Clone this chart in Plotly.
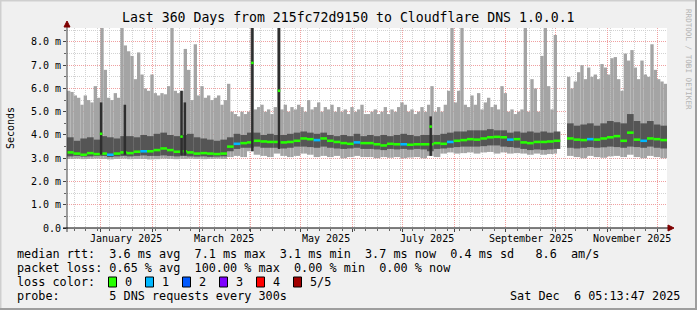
import pandas as pd
import plotly.graph_objects as go

# ---------------- data ----------------
START = pd.Timestamp("2024-12-11 19:00")
END = START + pd.Timedelta(days=360)

# top of the smoke (max of pings), 2-day bins, ms
smoke_high = [
    5.9, 5.85, 5.7, 5.6, 5.3, 5.7, 5.5, 5.4, 6.1, 5.6,
    8.7, 6.8, 5.6, 5.5, 5.8, 5.6, 8.7, 7.85, 7.6, 7.4,
    6.4, 7.55, 6.6, 6.0, 5.9, 6.6, 5.8, 5.7, 5.8, 5.75,
    6.1, 8.7, 5.9, 5.8, 5.9, 7.7, 6.8, 5.5, 7.9, 5.7,
    6.1, 5.6, 5.7, 5.5, 5.6, 5.7, 5.3, 5.5, 6.2, 5.0,
    4.9, 4.8, 5.0, 4.9, 5.0, 8.7, 5.1, 5.2, 5.3, 5.0,
    5.1, 4.9, 5.2, 8.7, 5.1, 5.3, 5.0, 5.2, 5.1, 5.3,
    5.2, 5.0, 5.5, 5.1, 5.2, 5.4, 5.0, 5.2, 5.1, 5.3,
    5.0, 5.2, 5.0, 5.1, 4.9, 5.2, 5.0, 5.1, 5.3, 4.9,
    4.9, 5.0, 5.1, 4.9, 5.0, 5.2, 4.9, 5.1, 5.0, 5.2,
    5.4, 5.3, 5.0, 5.1, 4.9, 5.0, 5.2, 5.0, 5.3, 6.1,
    5.0, 5.2, 5.0, 5.3, 5.9, 8.7, 5.4, 5.9, 8.7, 5.3,
    5.2, 5.7, 5.3, 5.8, 5.1, 5.4, 5.6, 5.2, 5.3, 5.1,
    6.1, 5.8, 5.0, 5.1, 4.9, 5.0, 5.1, 8.7, 5.0, 6.4,
    6.0, 5.0, 7.4, 8.7, 6.1, 5.1, 8.3, None, None, None,
    6.5, 6.0, 6.3, 6.7, 7.0, 6.4, 6.9, 6.5, 6.6, 6.4,
    7.05, 6.9, 6.6, 7.3, 7.35, 6.4, 5.9, 7.5, 7.2, 7.65,
    6.9, 6.4, 7.2, 6.6, 6.5, 7.9, 6.8, 6.4, 6.3, 6.2,
]

# bottom of the smoke (min of pings), 4-day bins, ms
smoke_low = [
    2.97, 2.98, 2.96, 2.97, 2.98, 2.97, 2.95, 2.97, 2.98, 2.96,
    2.97, 2.97, 2.95, 2.96, 2.98, 2.97, 2.96, 2.97, 2.98, 2.97,
    2.96, 2.97, 2.98, 2.97, 3.05, 3.1, 3.05, 3.3, 3.15, 3.1,
    3.05, 3.2, 3.1, 3.05, 3.1, 3.2, 3.15, 3.05, 3.1, 3.05,
    3.1, 3.0, 3.05, 3.1, 3.05, 3.05, 3.0, 3.05, 3.02, 3.05,
    3.0, 3.03, 3.05, 3.0, 3.1, 3.05, 3.2, 3.25, 3.2, 3.22,
    3.25, 3.2, 3.25, 3.27, 3.2, 3.25, 3.2, 3.22, 3.2, 3.15,
    3.2, 3.15, 3.18, 3.2, None, 3.1, 3.05, 3.0, 3.1, 3.05,
    3.02, 3.08, 3.1, 3.05, 3.15, 3.05, 3.0, 3.1, 3.05, 3.0,
]

# darker inner smoke band, 4-day bins, ms
band_lo = [
    3.08, 3.1, 3.07, 3.08, 3.1, 3.1, 3.05, 3.08, 3.1, 3.08,
    3.1, 3.12, 3.1, 3.1, 3.12, 3.1, 3.08, 3.1, 3.08, 3.07,
    3.08, 3.06, 3.07, 3.08, 3.3, 3.4, 3.45, 3.45, 3.5, 3.45,
    3.45, 3.45, 3.42, 3.45, 3.5, 3.5, 3.48, 3.45, 3.5, 3.45,
    3.42, 3.4, 3.42, 3.45, 3.4, 3.4, 3.38, 3.35, 3.4, 3.38,
    3.4, 3.37, 3.4, 3.38, 3.3, 3.4, 3.42, 3.45, 3.48, 3.5,
    3.5, 3.5, 3.52, 3.55, 3.55, 3.5, 3.48, 3.45, 3.4, 3.35,
    3.38, 3.36, 3.38, 3.4, None, 3.45, 3.42, 3.45, 3.48, 3.45,
    3.47, 3.5, 3.48, 3.45, 3.5, 3.48, 3.45, 3.5, 3.45, 3.42,
]
band_hi = [
    3.9, 3.75, 3.85, 3.9, 3.8, 3.95, 3.9, 3.85, 3.95, 3.95,
    3.9, 4.0, 3.95, 4.05, 4.1, 4.0, 3.95, 4.0, 4.05, 3.9,
    3.85, 3.8, 3.75, 3.8, 3.9, 4.05, 4.0, 4.1, 4.1, 4.0,
    4.05, 4.0, 4.0, 4.05, 4.1, 4.15, 4.1, 4.05, 4.1, 4.0,
    3.95, 4.0, 3.95, 4.05, 3.95, 4.0, 3.95, 4.0, 3.95, 4.0,
    4.05, 4.0, 3.95, 4.0, 4.0, 4.0, 4.05, 4.1, 4.15, 4.15,
    4.2, 4.2, 4.2, 4.25, 4.2, 4.2, 4.1, 4.15, 4.1, 4.15,
    4.1, 4.15, 4.1, 4.15, None, 4.5, 4.4, 4.45, 4.5, 4.4,
    4.5, 4.6, 4.55, 4.5, 4.9, 4.6, 4.5, 4.6, 4.45, 4.4,
]

# median rtt, 4-day bins, ms
median_rtt = [
    3.25, 3.2, 3.15, 3.22, 3.18, 3.2, 3.15, 3.2, 3.25, 3.22,
    3.28, 3.3, 3.3, 3.35, 3.42, 3.35, 3.28, 3.3, 3.25, 3.2,
    3.22, 3.2, 3.18, 3.2, 3.5, 3.62, 3.65, 3.68, 3.75, 3.72,
    3.7, 3.7, 3.68, 3.7, 3.75, 3.85, 3.82, 3.78, 3.85, 3.75,
    3.7, 3.65, 3.62, 3.68, 3.65, 3.65, 3.6, 3.55, 3.62, 3.6,
    3.6, 3.58, 3.6, 3.6, 3.6, 3.65, 3.62, 3.7, 3.75, 3.78,
    3.82, 3.8, 3.85, 3.9, 3.92, 3.9, 3.8, 3.82, 3.68, 3.65,
    3.7, 3.7, 3.72, 3.75, None, 3.85, 3.8, 3.78, 3.82, 3.8,
    3.85, 3.9, 3.95, 3.75, 4.1, 3.8, 3.75, 3.85, 3.82, 3.78,
]
# lost pings (of 5) per bin
loss = [
    0, 0, 0, 0, 0, 0, 1, 0, 0, 0,
    0, 1, 0, 0, 0, 0, 0, 0, 0, 0,
    0, 0, 0, 0, 0, 1, 0, 0, 0, 0,
    0, 0, 0, 0, 0, 0, 0, 1, 0, 0,
    0, 0, 0, 1, 0, 0, 0, 0, 0, 0,
    1, 0, 0, 0, 0, 0, 0, 1, 0, 0,
    0, 0, 0, 0, 0, 0, 1, 0, 0, 0,
    0, 0, 0, 0, 0, 0, 0, 0, 1, 0,
    0, 0, 0, 0, 0, 0, 1, 0, 0, 0,
]

# short-lived latency spikes (single consolidated samples)
spike_dates = ["2025-01-01 06:00", "2025-01-15 12:00", "2025-02-18 12:00", "2025-02-20 12:00",
               "2025-04-02 00:00", "2025-04-18 00:00", "2025-07-18 00:00"]
spike_base = [3.15, 3.15, 3.12, 3.12, 3.3, 3.4, 3.1]
spike_top = [5.4, 5.3, 5.9, 5.4, 8.7, 8.7, 4.8]
spike_median = [4.05, None, 3.93, None, 7.1, 5.9, 4.36]

loss_labels = ["0", "1", "2", "3", "4", "5/5"]
loss_colors = ["#26ff00", "#00b8ff", "#0059ff", "#7e00ff", "#ff0000", "#a10000"]

month_starts = pd.date_range("2025-01-01", "2025-12-01", freq="MS")
label_dates = ["2025-01-16", "2025-03-16", "2025-05-16", "2025-07-16", "2025-09-16", "2025-11-16"]
label_texts = ["January 2025", "March 2025", "May 2025", "July 2025", "September 2025", "November 2025"]
y_ticks = [0, 1, 2, 3, 4, 5, 6, 7, 8]
y_ticktext = ["0.0", "1.0 m", "2.0 m", "3.0 m", "4.0 m", "5.0 m", "6.0 m", "7.0 m", "8.0 m"]

title = "Last 360 Days from 215fc72d9150 to Cloudflare DNS 1.0.0.1"
legend_rows = [
    "median rtt:  3.6 ms avg  7.1 ms max  3.1 ms min  3.7 ms now  0.4 ms sd   8.6  am/s",
    "packet loss: 0.65 % avg  100.00 % max  0.00 % min  0.00 % now",
    "loss color:",
    "probe:       5 DNS requests every 300s",
]
stamp = "Sat Dec  6 05:13:47 2025"

# ---------------- geometry helpers ----------------
W, H = 697, 310
L, R, T, B = 67, 667, 28, 228
def fx(px):
    return (px - L) / (R - L)
def fy(py):
    return (B - py) / (B - T)

FONT = "DejaVu Sans Mono"
DAY = 86400000

x2 = pd.date_range(START + pd.Timedelta(days=1), periods=len(smoke_high), freq="2D")
x4 = pd.date_range(START + pd.Timedelta(days=2), periods=len(median_rtt), freq="4D")

low2 = [smoke_low[i // 2] for i in range(len(smoke_high))]
light_h = [None if (h is None or l is None) else h - l for h, l in zip(smoke_high, low2)]
dark_h = [None if (h is None or l is None) else h - l for h, l in zip(band_hi, band_lo)]
MED_T = 0.11
med_base = [None if m is None else m - MED_T / 2 for m in median_rtt]
med_h = [None if m is None else MED_T for m in median_rtt]
med_c = [loss_colors[k] for k in loss]

spike_x = pd.to_datetime(spike_dates)
spike_h = [t - b for t, b in zip(spike_top, spike_base)]
sm_base = [None if m is None else m - MED_T / 2 for m in spike_median]
sm_h = [None if m is None else MED_T for m in spike_median]

fig = go.Figure()
fig.add_trace(go.Bar(x=x2, base=low2, y=light_h, width=2 * DAY,
                     marker=dict(color="#a4a4a4", line=dict(width=0)), hoverinfo="skip"))
fig.add_trace(go.Bar(x=x4, base=band_lo, y=dark_h, width=4 * DAY,
                     marker=dict(color="#555555", line=dict(width=0)), hoverinfo="skip"))
fig.add_trace(go.Bar(x=x4, base=med_base, y=med_h, width=4 * DAY,
                     marker=dict(color=med_c, line=dict(width=0)), hoverinfo="skip"))
fig.add_trace(go.Bar(x=spike_x, base=spike_base, y=spike_h, width=1.5 * DAY,
                     marker=dict(color="#2e2e2e", line=dict(width=0)), hoverinfo="skip"))
fig.add_trace(go.Bar(x=spike_x, base=sm_base, y=sm_h, width=1.5 * DAY,
                     marker=dict(color=loss_colors[0], line=dict(width=0)), hoverinfo="skip"))

GRID_MIN = "#d2d2d2"
GRID_MAJ = "#f0a0a0"

fig.update_layout(
    width=W, height=H,
    margin=dict(l=L, r=W - R, t=T, b=H - B, pad=0),
    paper_bgcolor="#f0f0f0", plot_bgcolor="#ffffff",
    barmode="overlay", showlegend=False,
    font=dict(family=FONT, size=10, color="#000000"),
    xaxis=dict(
        type="date", range=[START, END], tickmode="array",
        tickvals=list(month_starts), ticktext=[""] * len(month_starts),
        showgrid=True, gridcolor=GRID_MAJ, griddash="1px,1px", gridwidth=1,
        ticks="outside", ticklen=3, tickcolor="#444444", showline=False, zeroline=False,
        minor=dict(tickmode="linear", tick0="2025-01-06", dtick=7 * DAY,
                   showgrid=True, gridcolor=GRID_MIN, griddash="1px,1px", gridwidth=1,
                   ticks="outside", ticklen=2, tickcolor="#666666"),
    ),
    yaxis=dict(
        range=[0, 8.6], tickmode="array", tickvals=y_ticks, ticktext=y_ticktext,
        showgrid=True, gridcolor=GRID_MAJ, griddash="1px,1px", gridwidth=1,
        ticks="outside", ticklen=3, tickcolor="#444444", showline=False, zeroline=False,
        tickfont=dict(family=FONT, size=10),
        minor=dict(tickmode="linear", tick0=0, dtick=0.5,
                   showgrid=True, gridcolor=GRID_MIN, griddash="1px,1px", gridwidth=1,
                   ticks="outside", ticklen=2, tickcolor="#666666"),
    ),
)

ann = []
def text(px, py, s, size, xanchor="left", yanchor="middle", color="#000000", angle=0):
    ann.append(dict(x=fx(px), y=fy(py), xref="paper", yref="paper", text=s.replace(" ", "\u00a0"),
                    showarrow=False, xanchor=xanchor, yanchor=yanchor, textangle=angle,
                    font=dict(family=FONT, size=size, color=color), borderpad=0))

text(348, 18, title, 13.2, xanchor="center")
text(10, 128, "Seconds", 10, xanchor="center", angle=-90)
text(689, 59, "RRDTOOL / TOBI OETIKER", 7.6, xanchor="center", color="#b4b4b4", angle=90)
for d, s in zip(label_dates, label_texts):
    ann.append(dict(x=d, y=fy(238), xref="x", yref="paper", text=s.replace(" ", "\u00a0"),
                    showarrow=False, xanchor="center", yanchor="middle",
                    font=dict(family=FONT, size=10, color="#000000")))
row_y = [254, 268, 282, 296]
for s, yy in zip(legend_rows, row_y):
    text(16, yy, s, 11.8)
text(681, 296, stamp, 11.8, xanchor="right")

shapes = []
for k, (lab, col) in enumerate(zip(loss_labels, loss_colors)):
    bx = 108.5 + 37 * k
    shapes.append(dict(type="rect", xref="paper", yref="paper",
                       x0=fx(bx), x1=fx(bx + 8), y0=fy(277), y1=fy(287),
                       fillcolor=col, line=dict(color="#000000", width=1)))
    text(bx + 15, 282, lab, 11.8)

# axes with rrdtool-style arrows
shapes.append(dict(type="line", xref="paper", yref="paper", x0=fx(67), x1=fx(67), y0=fy(232), y1=fy(25),
                   line=dict(color="#404040", width=1)))
shapes.append(dict(type="line", xref="paper", yref="paper", x0=fx(63), x1=fx(670), y0=fy(228), y1=fy(228),
                   line=dict(color="#000000", width=1)))
shapes.append(dict(type="path", xref="paper", yref="paper",
                   path="M {} {} L {} {} L {} {} Z".format(fx(64), fy(27), fx(70), fy(27), fx(67), fy(21)),
                   fillcolor="#7f0000", line=dict(color="#7f0000", width=1)))
shapes.append(dict(type="path", xref="paper", yref="paper",
                   path="M {} {} L {} {} L {} {} Z".format(fx(668), fy(225), fx(668), fy(231), fx(674), fy(228)),
                   fillcolor="#7f0000", line=dict(color="#7f0000", width=1)))
# 3-d frame
shapes.append(dict(type="line", xref="paper", yref="paper", x0=fx(0), x1=fx(697), y0=fy(0.5), y1=fy(0.5),
                   line=dict(color="#cfcfcf", width=2)))
shapes.append(dict(type="line", xref="paper", yref="paper", x0=fx(0.5), x1=fx(0.5), y0=fy(0), y1=fy(310),
                   line=dict(color="#cfcfcf", width=2)))
shapes.append(dict(type="line", xref="paper", yref="paper", x0=fx(0), x1=fx(697), y0=fy(309), y1=fy(309),
                   line=dict(color="#9e9e9e", width=2)))
shapes.append(dict(type="line", xref="paper", yref="paper", x0=fx(696), x1=fx(696), y0=fy(0), y1=fy(310),
                   line=dict(color="#9e9e9e", width=2)))

fig.update_layout(annotations=ann, shapes=shapes)
fig.write_html("out.html")
